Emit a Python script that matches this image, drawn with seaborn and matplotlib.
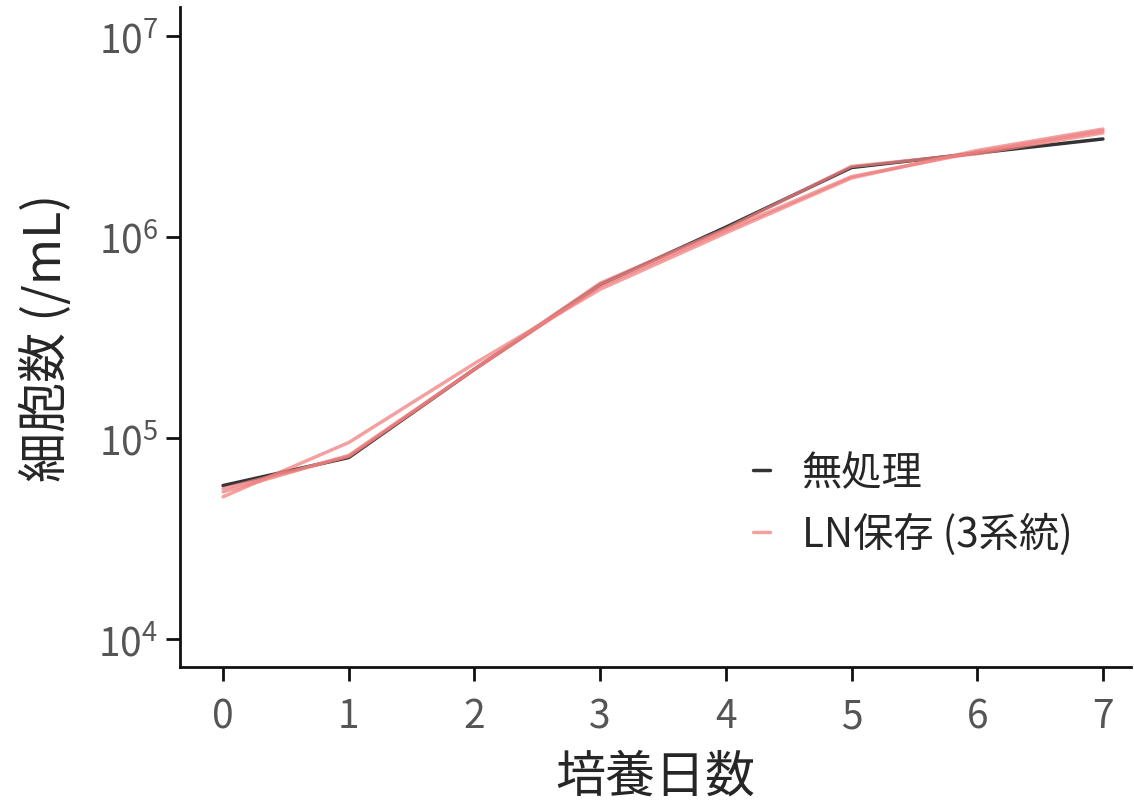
import numpy as np
import pandas as pd
import seaborn as sns
import matplotlib.pyplot as plt
from matplotlib.lines import Line2D

days = [0, 1, 2, 3, 4, 5, 6, 7]
control = [5.8e4, 8.0e4, 2.2e5, 5.8e5, 1.12e6, 2.22e6, 2.62e6, 3.08e6]
ln_line1 = [5.6e4, 8.1e4, 2.2e5, 5.9e5, 1.10e6, 2.25e6, 2.60e6, 3.30e6]
ln_line2 = [5.1e4, 9.5e4, 2.35e5, 5.5e5, 1.05e6, 1.97e6, 2.70e6, 3.45e6]
ln_line3 = [5.4e4, 8.2e4, 2.2e5, 5.7e5, 1.08e6, 2.00e6, 2.65e6, 3.38e6]

group_names = ["無処理", "LN保存 (3系統)"]
colors = {"無処理": "#333333", "LN保存 (3系統)": "#f08080"}

rows = []
for d, v in zip(days, control):
    rows.append(dict(day=d, cells=v, group=group_names[0], line="c"))
for name, vals in [("a", ln_line1), ("b", ln_line2), ("c2", ln_line3)]:
    for d, v in zip(days, vals):
        rows.append(dict(day=d, cells=v, group=group_names[1], line=name))
df = pd.DataFrame(rows)

sns.set_theme(style="ticks")
plt.rcParams['font.family'] = ['Noto Sans CJK JP', 'DejaVu Sans']

fig, ax = plt.subplots(figsize=(11.34, 8.04), dpi=100)

sns.lineplot(data=df[df.group == group_names[0]], x="day", y="cells",
             units="line", estimator=None, color=colors[group_names[0]],
             lw=2.5, ax=ax, legend=False)
sns.lineplot(data=df[df.group == group_names[1]], x="day", y="cells",
             units="line", estimator=None, color=colors[group_names[1]],
             lw=2.5, alpha=0.75, ax=ax, legend=False)

ax.set_yscale("log")
ax.set_ylim(10 ** 3.86, 10 ** 7.145)
ax.set_xlim(-0.34, 7.22)
ax.set_xticks(days)
ax.set_yticks([1e4, 1e5, 1e6, 1e7])
ax.minorticks_off()
ax.tick_params(axis="both", labelsize=28, labelcolor="#555555",
               length=10, width=2, color="#111111")
ax.tick_params(axis="x", pad=11)
ax.tick_params(axis="y", pad=6)
for s in ["left", "bottom"]:
    ax.spines[s].set_linewidth(2)
    ax.spines[s].set_color("#111111")
sns.despine(ax=ax)

ax.set_xlabel("培養日数", fontsize=36, labelpad=10)
ax.set_ylabel("細胞数 (/mL)", fontsize=36, labelpad=18)

handles = [Line2D([], [], color=colors[group_names[0]], lw=2.5),
           Line2D([], [], color=colors[group_names[1]], lw=2.5, alpha=0.75)]
ax.legend(handles, group_names, frameon=False, fontsize=29,
          handlelength=0.4, handletextpad=0.8, labelspacing=0.5,
          loc="center left", bbox_to_anchor=(0.565, 0.248))

fig.subplots_adjust(left=0.159, right=0.997, top=0.99, bottom=0.169)
fig.savefig("out.png", dpi=100)
